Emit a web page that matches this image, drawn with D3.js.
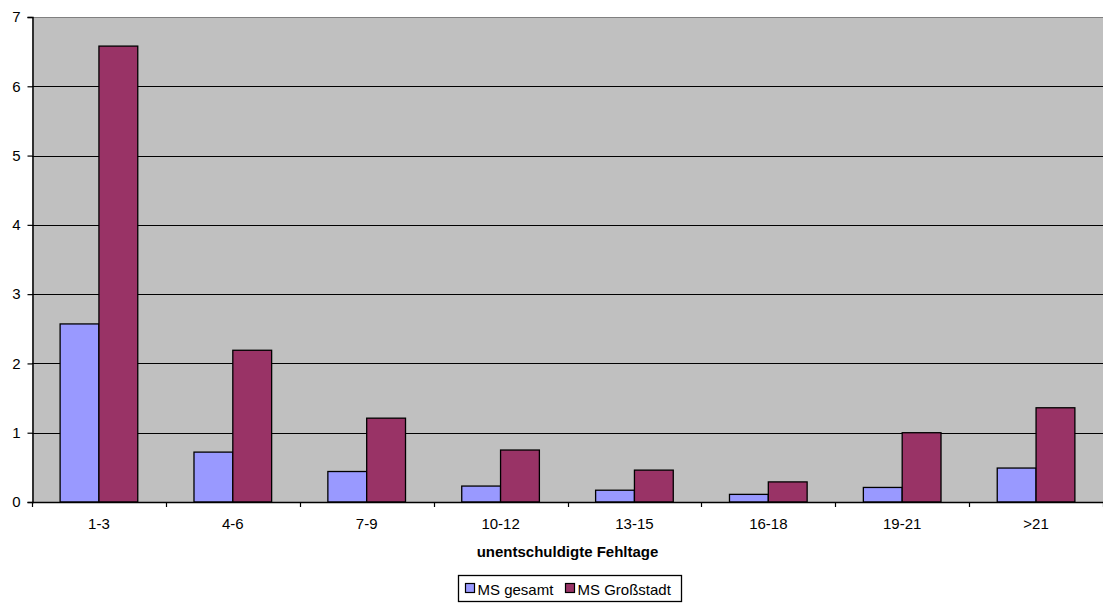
<!DOCTYPE html>
<html>
<head>
<meta charset="utf-8">
<script src="https://cdn.jsdelivr.net/npm/d3@7"></script>
<style>
  body { margin: 0; background: #fff; }
  svg { font-family: "Liberation Sans", Arial, sans-serif; }
</style>
</head>
<body>
<script>
// categories and series
var categories = ["1-3", "4-6", "7-9", "10-12", "13-15", "16-18", "19-21", ">21"];
var gesamt = [2.57, 0.72, 0.44, 0.23, 0.17, 0.11, 0.21, 0.49];
var grossstadt = [6.58, 2.19, 1.21, 0.75, 0.46, 0.29, 1.0, 1.36];
var seriesNames = ["MS gesamt", "MS Großstadt"];
var seriesColors = ["#9999FF", "#993366"];
var yTicks = [0, 1, 2, 3, 4, 5, 6, 7];

var W = 1103, H = 604;
var plotLeft = 32, plotRight = 1103, plotTop = 17, plotBottom = 502;

var svg = d3.select("body").append("svg")
    .attr("width", W)
    .attr("height", H);

var x0 = d3.scaleBand().domain(categories).range([plotLeft, plotRight]).padding(0);
var x1 = d3.scaleBand().domain([0, 1])
    .range([x0.bandwidth() * 0.21, x0.bandwidth() * 0.79]).padding(0);
var y = d3.scaleLinear().domain([0, 7]).range([plotBottom, plotTop]);

// plot background
svg.append("rect")
    .attr("x", plotLeft).attr("y", plotTop)
    .attr("width", plotRight - plotLeft).attr("height", plotBottom - plotTop)
    .attr("fill", "#C0C0C0");

// grid lines
svg.append("g").selectAll("line")
    .data(yTicks.slice(1))
    .enter().append("line")
    .attr("x1", plotLeft).attr("x2", plotRight)
    .attr("y1", function (d) { return Math.round(y(d)) + 0.5; })
    .attr("y2", function (d) { return Math.round(y(d)) + 0.5; })
    .attr("stroke", function (d) { return d === 7 ? "#808080" : "#000"; })
    .attr("stroke-width", 1.2);

// bars
var data = categories.map(function (c, i) {
    return { cat: c, vals: [gesamt[i], grossstadt[i]] };
});

var groups = svg.append("g").selectAll("g")
    .data(data)
    .enter().append("g")
    .attr("transform", function (d) { return "translate(" + x0(d.cat) + ",0)"; });

groups.selectAll("rect")
    .data(function (d) { return d.vals.map(function (v, k) { return { k: k, v: v }; }); })
    .enter().append("rect")
    .attr("x", function (d) { return x1(d.k); })
    .attr("width", x1.bandwidth())
    .attr("y", function (d) { return y(d.v); })
    .attr("height", function (d) { return y(0) - y(d.v); })
    .attr("fill", function (d) { return seriesColors[d.k]; })
    .attr("stroke", "#000")
    .attr("stroke-width", 1.3);

// y axis
var yAxis = d3.axisLeft(y).tickValues(yTicks).tickSize(5).tickPadding(7)
    .tickFormat(d3.format("d"));
var gy = svg.append("g")
    .attr("transform", "translate(" + (plotLeft + 0.5) + ",0)")
    .call(yAxis);
gy.select(".domain").attr("stroke", "#000").attr("stroke-width", 1.5);
gy.selectAll(".tick line").attr("stroke", "#000").attr("stroke-width", 1.2);
gy.selectAll("text").attr("font-size", 15).attr("fill", "#000")
    .attr("font-family", "Liberation Sans, Arial, sans-serif");

// x axis line and ticks at category boundaries
svg.append("line")
    .attr("x1", plotLeft).attr("x2", plotRight)
    .attr("y1", plotBottom + 0.5).attr("y2", plotBottom + 0.5)
    .attr("stroke", "#000").attr("stroke-width", 1.5);

var bounds = categories.map(function (c) { return x0(c); });
bounds.push(plotRight);
svg.append("g").selectAll("line")
    .data(bounds)
    .enter().append("line")
    .attr("x1", function (d) { return Math.round(d) + 0.5; })
    .attr("x2", function (d) { return Math.round(d) + 0.5; })
    .attr("y1", plotBottom).attr("y2", plotBottom + 5)
    .attr("stroke", "#000").attr("stroke-width", 1.2);

svg.append("g").selectAll("text")
    .data(categories)
    .enter().append("text")
    .attr("x", function (d) { return x0(d) + x0.bandwidth() / 2; })
    .attr("y", 529)
    .attr("text-anchor", "middle")
    .attr("font-size", 15)
    .text(function (d) { return d; });

// axis title
svg.append("text")
    .attr("x", (plotLeft + plotRight) / 2)
    .attr("y", 557)
    .attr("text-anchor", "middle")
    .attr("font-size", 15)
    .attr("font-weight", "bold")
    .text("unentschuldigte Fehltage");

// legend
var lg = svg.append("g").attr("transform", "translate(458.5,575.5)");
lg.append("rect")
    .attr("width", 223).attr("height", 26)
    .attr("fill", "#fff").attr("stroke", "#000").attr("stroke-width", 1.3);
var lx = [7, 107];
seriesNames.forEach(function (name, k) {
    lg.append("rect")
        .attr("x", lx[k]).attr("y", 8)
        .attr("width", 9).attr("height", 9)
        .attr("fill", seriesColors[k])
        .attr("stroke", "#000").attr("stroke-width", 1.2);
    lg.append("text")
        .attr("x", lx[k] + 12).attr("y", 19)
        .attr("font-size", 15)
        .text(name);
});
</script>
</body>
</html>
